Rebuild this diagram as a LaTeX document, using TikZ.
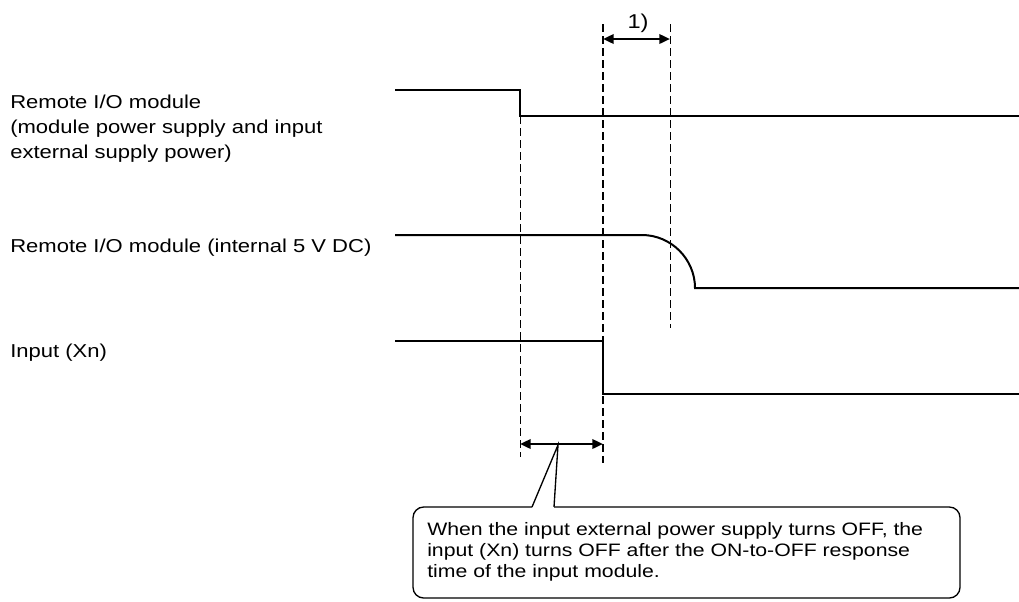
\documentclass[tikz,border=0pt]{standalone}
\usepackage{fontspec}
\setmainfont[FakeStretch=1.18]{Liberation Sans}
\usetikzlibrary{arrows.meta,positioning}

\begin{document}
\begin{tikzpicture}[x=0.75pt,y=-0.75pt,
    sig/.style={line width=1.5pt,color=black},
    dthin/.style={line width=0.75pt,dash pattern=on 6pt off 3pt},
    dthick/.style={line width=1.5pt,dash pattern=on 6pt off 3pt},
    arr/.style={{Triangle[length=8pt,width=7pt]}-{Triangle[length=8pt,width=7pt]},line width=1.8pt},
    lbl/.style={anchor=base west,inner sep=0pt,align=left,
                font=\fontsize{14}{18.75}\selectfont},
    note/.style={anchor=base west,inner sep=0pt,align=left,
                font=\fontsize{13.5}{15.75}\selectfont},
    callout/.style={line width=1pt}
  ]
    \useasboundingbox (0,0) rectangle (1019,601);
    % signal labels (base = last line)
    \node[lbl] (rio) at (10,158) {Remote I/O module\\(module power supply and input\\external supply power)};
    \node[lbl] (r5v) at (10,252) {Remote I/O module (internal 5 V DC)};
    \node[lbl] (inp) at (10,357) {Input (Xn)};
    % waveforms
    \draw[sig] (395,90) -- (520,90) -- (520,116) -- (1019,116);
    \draw[sig] (395,235) -- (642,235) .. controls (671,235) and (695,259) .. (695,288) -- (1019,288);
    \draw[sig] (395,341) -- (603,341) -- (603,394) -- (1019,394);
    % timing guides
    \draw[dthin] (520,116) -- (520,457);
    \draw[dthick] (603,24) -- (603,463);
    \draw[dthin] (670,24) -- (670,328);
    % 1) interval
    \coordinate (t1a) at (603,39);
    \coordinate (t1b) at (670,39);
    \draw[arr] (t1a) -- (t1b);
    \node[anchor=base,inner sep=0pt,font=\fontsize{15}{16}\selectfont] (one) at (638,28) {1)};
    % response time interval
    \coordinate (t2a) at (520,444);
    \coordinate (t2b) at (603,444);
    \draw[arr] (t2a) -- (t2b);
    % callout
    \coordinate (tip) at (558,445);
    \draw[callout,rounded corners=8] (532,507) -- (413,507) -- (413,598) -- (960,598) -- (960,507) -- (554,507);
    \draw[callout] (532,507) -- (tip) -- (554,507);
    \node[note] (txt) at (427,577) {When the input external power supply turns OFF, the\\input (Xn) turns OFF after the ON-to-OFF response\\time of the input module.};
\end{tikzpicture}
\end{document}
